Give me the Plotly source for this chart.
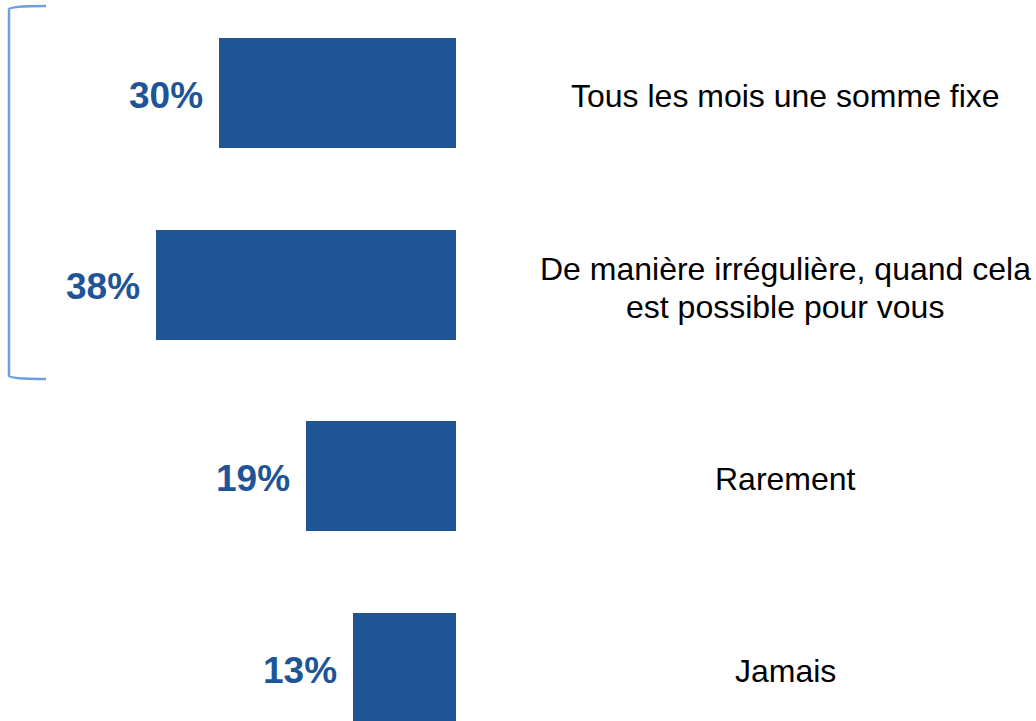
import plotly.graph_objects as go

categories = ["Tous les mois une somme fixe",
              "De manière irrégulière, quand cela<br>est possible pour vous",
              "Rarement",
              "Jamais"]
values = [30, 38, 19, 13]
pct_labels = ["30%", "38%", "19%", "13%"]

W, H = 1036, 721
BAR_COLOR = "#1F5597"
ypos = list(range(len(categories)))

fig = go.Figure()
fig.add_trace(go.Bar(
    y=ypos, x=values, orientation="h",
    marker=dict(color=BAR_COLOR, line=dict(width=0)),
    width=0.574, hoverinfo="skip",
))

LINE_H = 38
for i, (v, t) in enumerate(zip(values, pct_labels)):
    fig.add_annotation(x=v, y=i, xref="x", yref="y", text=t, showarrow=False,
                       xanchor="right", yanchor="middle", xshift=-14, yshift=-2,
                       font=dict(family="Liberation Sans, Arial", size=37, color=BAR_COLOR, weight="bold"))
    lines = categories[i].split("<br>")
    n = len(lines)
    for k, ln in enumerate(lines):
        off = (k - (n - 1) / 2) * LINE_H
        fig.add_annotation(x=785 / W, xref="paper", y=i, yref="y", text=ln,
                           showarrow=False, xanchor="center", yanchor="middle",
                           yshift=-3 - off, align="center",
                           font=dict(family="Liberation Sans, Arial", size=32, color="#000000"))

# bracket
def px(x): return x / W
def py(y): return 1 - y / H
path = (f"M {px(46)},{py(6)} Q {px(9)},{py(6)} {px(9)},{py(9)} "
        f"L {px(9)},{py(376)} Q {px(9)},{py(379)} {px(46)},{py(379)}")
fig.add_shape(type="path", path=path, xref="paper", yref="paper",
              line=dict(color="#6CA0E0", width=2.5))

scale = 300 / 38.0
fig.update_layout(
    width=W, height=H, margin=dict(l=0, r=0, t=0, b=0),
    paper_bgcolor="white", plot_bgcolor="white", showlegend=False,
    xaxis=dict(range=[456 / scale, -(W - 456) / scale], visible=False, fixedrange=True),
    yaxis=dict(range=[3 + (H - 668) / 191.67, -93 / 191.67], visible=False, fixedrange=True),
    bargap=0,
)
fig.write_html("out.html", config={"displayModeBar": False},
               post_script="document.body.style.margin='0';document.body.style.overflow='hidden';")
